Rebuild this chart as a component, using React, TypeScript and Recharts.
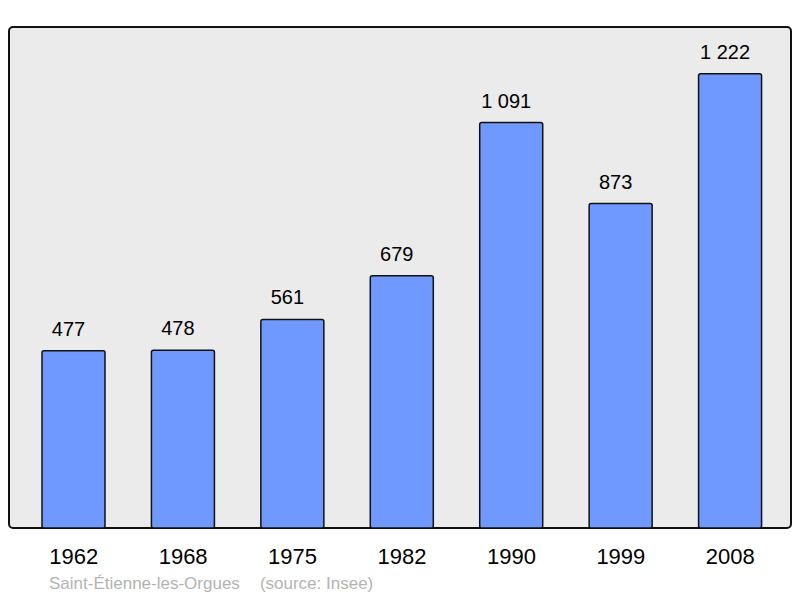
import React from 'react';
import { BarChart, Bar, XAxis, YAxis, LabelList, usePlotArea } from 'recharts';

const years = ['1962', '1968', '1975', '1982', '1990', '1999', '2008'];
const population = [477, 478, 561, 679, 1091, 873, 1222];
const townName = 'Saint-Étienne-les-Orgues';
const sourceText = '(source: Insee)';

const data = years.map((y, i) => ({ year: y, pop: population[i] }));

const fmt = (v: any) => {
  const s = String(v);
  return s.replace(/\B(?=(\d{3})+(?!\d))/g, ' ');
};

const FONT = '"Liberation Sans", Arial, sans-serif';

function FrameBg() {
  const p = usePlotArea();
  if (!p) return null;
  return <rect x={p.x} y={p.y} width={p.width} height={p.height} rx={4} ry={4} fill="#ebebeb" />;
}

function FrameStroke() {
  const p = usePlotArea();
  if (!p) return null;
  return (
    <g>
      <rect x={p.x} y={p.y} width={p.width} height={p.height} rx={4} ry={4} fill="none" stroke="#111" strokeWidth={2} />
      <text x={p.x + 40} y={p.y + p.height + 61} fontSize={17} fill="#b3b3b3" fontFamily={FONT}>
        {townName}
        <tspan dx={20}>{sourceText}</tspan>
      </text>
    </g>
  );
}

export default function App() {
  return (
    <div style={{ position: 'absolute', left: 0, top: 0, background: '#fff' }}>
      <BarChart
        width={800}
        height={598}
        data={data}
        margin={{ top: 27, right: 9, left: 9, bottom: 0 }}
      >
        <FrameBg />
        <XAxis
          dataKey="year"
          height={70}
          axisLine={false}
          tickLine={false}
          tickSize={0}
          tickMargin={20}
          padding={{ left: 10, right: 6 }}
          tick={{ fontSize: 22, fill: '#000', fontFamily: FONT }}
          interval={0}
        />
        <YAxis hide domain={[0, 1348]} />
        <Bar
          dataKey="pop"
          fill="#7099ff"
          stroke="#111"
          strokeWidth={1.5}
          barSize={63}
          radius={2}
          isAnimationActive={false}
        >
          <LabelList
            dataKey="pop"
            position="top"
            offset={15}
            dx={-5}
            formatter={fmt}
            style={{ fontSize: 20, fill: '#000', fontFamily: FONT }}
          />
        </Bar>
        <FrameStroke />
      </BarChart>
    </div>
  );
}
